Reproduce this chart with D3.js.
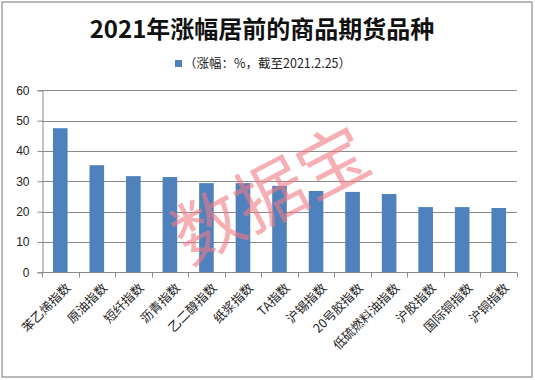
<!DOCTYPE html>
<html><head><meta charset="utf-8">
<script src="https://cdn.jsdelivr.net/npm/d3@7"></script>
<style>body{margin:0;background:#fff}svg{display:block}</style>
</head><body>
<script>
const categories = ["苯乙烯指数","原油指数","短纤指数","沥青指数","乙二醇指数","纸浆指数","TA指数","沪锡指数","20号胶指数","低硫燃料油指数","沪胶指数","国际铜指数","沪铜指数"];
const values = [47.5, 35.3, 31.7, 31.4, 29.4, 29.4, 28.5, 26.8, 26.5, 25.8, 21.5, 21.5, 21.2];
const yTicks = [0,10,20,30,40,50,60];
const title = "2021年涨幅居前的商品期货品种";
const legendLabel = "（涨幅：%，截至2021.2.25）";
const watermark = "数据宝";

const W=535,H=380;
const svg=d3.select("body").append("svg").attr("width",W).attr("height",H);
svg.append("rect").attr("x",2).attr("y",2).attr("width",530).attr("height",375)
  .attr("fill","#fff").attr("stroke","#8c8c8c").attr("stroke-width",1.2);

const m={l:42,r:18,t:90.3,b:107.7};
const x=d3.scaleBand().domain(categories).range([m.l,W-m.r]).paddingInner(0.6).paddingOuter(0.3);
const y=d3.scaleLinear().domain([0,60]).range([272.3,90.3]);

// gridlines
svg.append("g").selectAll("line").data(yTicks.filter(d=>d>0)).join("line")
  .attr("x1",m.l).attr("x2",W-m.r).attr("y1",d=>Math.round(y(d))+0.5).attr("y2",d=>Math.round(y(d))+0.5)
  .attr("stroke","#8a8a8a").attr("stroke-width",1);

// bars
svg.append("g").selectAll("rect").data(values).join("rect")
  .attr("x",(d,i)=>x(categories[i])).attr("width",x.bandwidth())
  .attr("y",d=>y(d)).attr("height",d=>y(0)-y(d)).attr("fill","#4f81bd");

// y axis
const ya=svg.append("g").attr("transform",`translate(${m.l+0.5},0)`)
  .call(d3.axisLeft(y).tickValues(yTicks).tickSize(5).tickPadding(8));
ya.selectAll("path,line").attr("stroke","#8a8a8a");
ya.selectAll("text").attr("font-family","Liberation Sans, Arial, sans-serif").attr("font-size",12).attr("fill","#222");

// x axis
const xa=svg.append("g").attr("transform",`translate(0,${Math.round(y(0))+0.5})`);
xa.append("line").attr("x1",m.l).attr("x2",W-m.r).attr("stroke","#8a8a8a");
const bounds=d3.range(categories.length+1).map(i=>m.l+ (W-m.r-m.l)*i/categories.length);
xa.selectAll("line.t").data(bounds).join("line").attr("class","t")
  .attr("x1",d=>Math.round(d)+0.5).attr("x2",d=>Math.round(d)+0.5).attr("y1",0).attr("y2",5).attr("stroke","#8a8a8a");
xa.selectAll("text").data(categories).join("text")
  .attr("transform",d=>`translate(${x(d)+x.bandwidth()/2+5},${10}) rotate(-45)`)
  .attr("text-anchor","end").attr("dy","0.7em")
  .attr("font-family","Noto Sans CJK SC, sans-serif").attr("font-size",12.5).attr("fill","#222")
  .text(d=>d);

// title
svg.append("text").attr("x",262).attr("y",38).attr("text-anchor","middle")
  .attr("font-family","Noto Sans CJK SC, sans-serif").attr("font-weight","bold").attr("font-size",24)
  .attr("fill","#111").text(title);

// legend
svg.append("rect").attr("x",175).attr("y",60).attr("width",7).attr("height",7).attr("fill","#4f81bd");
svg.append("text").attr("x",184).attr("y",68).attr("font-family","Noto Sans CJK SC, sans-serif")
  .attr("font-size",12.5).attr("fill","#222").text(legendLabel);

// watermark
svg.append("text").attr("transform","translate(268,190) rotate(-27.5)").attr("text-anchor","middle")
  .attr("dominant-baseline","central")
  .attr("font-family","Noto Sans CJK SC, sans-serif").attr("font-weight",400).attr("font-size",70)
  .attr("fill","#f07c84").attr("fill-opacity",0.6).text(watermark);
</script>
</body></html>
